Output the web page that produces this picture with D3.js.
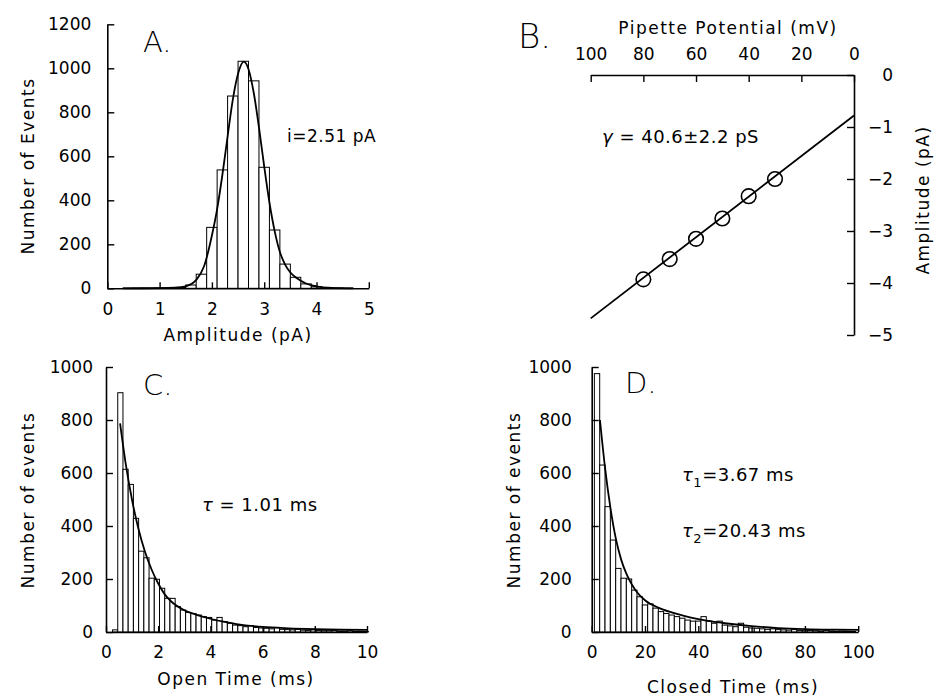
<!DOCTYPE html>
<html>
<head>
<meta charset="utf-8">
<script src="https://cdn.jsdelivr.net/npm/d3@7"></script>
<style>
body { margin: 0; background: #fff; }
svg text { font-family: "DejaVu Sans", sans-serif; fill: #000; }
</style>
</head>
<body>
<svg id="chart" width="934" height="698"></svg>
<script>
// A. amplitude histogram (bins of 0.2 pA starting at 0.3)
const ampBinStart = 0.3, ampBinWidth = 0.2;
const ampCounts = [1, 1, 1, 2, 2, 4, 15, 64, 277, 538, 874, 1032, 943, 550, 265, 110, 50, 20, 7, 3, 2, 1];
const ampFitX = [0.3, 1.0, 1.3, 1.5, 1.7, 1.85, 2.0, 2.1, 2.2, 2.3, 2.4, 2.5, 2.61, 2.7, 2.8, 2.9, 3.0, 3.1, 3.2, 3.3, 3.4, 3.5, 3.62, 3.8, 4.0, 4.3, 4.7];
const ampFitY = [0, 0.5, 2.5, 9, 38, 100, 240, 360, 515, 690, 858, 975, 1030, 996, 889, 731, 554, 390, 260, 165, 108, 72, 47, 22, 9, 2, 0];

// B. current-voltage relation
const pipetteMV = [80, 70, 60, 50, 40, 30];
const amplitudePA = [-3.93, -3.54, -3.15, -2.76, -2.33, -2.0];
const ivFitMV = [100, 0];
const ivFitPA = [-4.68, -0.78];

// C. open time histogram (bins of 0.2 ms)
const openBinStart = 0.25, openBinWidth = 0.2;
const openCounts = [8, 903, 614, 557, 429, 305, 280, 203, 199, 165, 127, 127, 96, 83, 74, 70, 64, 58, 55,
  45, 55, 39, 33, 26, 24, 20, 24, 17, 15, 14, 12, 16, 10, 9, 8, 10, 7, 6, 8, 6, 5, 5, 6, 4, 4, 5, 3, 3, 2];
const openFitX = [0.54, 0.75, 1.0, 1.25, 1.5, 1.75, 2.0, 2.25, 2.5, 3.0, 3.5, 4.0, 4.5, 5.0, 6.0, 7.0, 8.0, 9.0, 10.0];
const openFitY = [787, 638, 497, 387, 301, 235, 183, 142, 115, 82, 64, 50, 39, 30, 19, 14, 11, 9, 8];

// D. closed time histogram (bins of 2 ms)
const closedBinStart = 1, closedBinWidth = 2;
const closedCounts = [975, 630, 473, 347, 240, 203, 200, 158, 133, 102, 106, 90, 77, 70, 64, 58, 52, 45, 41, 41,
  58, 41, 33, 41, 26, 23, 20, 33, 18, 15, 14, 12, 10, 12, 9, 8, 7, 9, 6, 5, 6, 5, 4, 6, 4, 3, 4, 3, 2];
const closedFitX = [3.1, 5, 7, 9, 11, 13, 15, 17, 20, 25, 30, 35, 40, 45, 50, 60, 70, 80, 90, 100];
const closedFitY = [800, 620, 470, 355, 275, 220, 180, 150, 120, 92, 74, 60, 49, 40, 33, 22, 15, 11, 9, 8];

const svg = d3.select("#chart");

function styleAxis(g) {
    g.select(".domain").attr("stroke-width", 1.6);
    g.selectAll(".tick line").attr("stroke-width", 1.4);
    g.selectAll(".tick text").attr("font-size", 17).attr("font-family", "DejaVu Sans, sans-serif");
}

function label(x, y, txt, opts = {}) {
    const t = svg.append("text")
        .attr("x", x).attr("y", y)
        .attr("font-size", opts.size || 17)
        .attr("letter-spacing", opts.spacing || 0)
        .attr("text-anchor", opts.anchor || "start")
        .text(txt);
    if (opts.rotate) t.attr("transform", `rotate(-90,${x},${y})`);
    if (opts.weight) t.attr("font-weight", opts.weight);
    return t;
}

function drawHist(p) {
    const x = d3.scaleLinear().domain(p.xDomain).range(p.xRange);
    const y = d3.scaleLinear().domain(p.yDomain).range(p.yRange);
    const g = svg.append("g");

    g.selectAll("rect")
        .data(p.counts)
        .join("rect")
        .attr("x", (d, i) => x(p.binStart + i * p.binWidth))
        .attr("width", x(p.binWidth) - x(0))
        .attr("y", d => y(d))
        .attr("height", d => y(0) - y(d))
        .attr("fill", "#fff")
        .attr("stroke", "#000")
        .attr("stroke-width", 1);

    const line = d3.line()
        .x(d => x(d[0]))
        .y(d => y(d[1]))
        .curve(d3.curveMonotoneX);
    g.append("path")
        .datum(d3.zip(p.fitX, p.fitY))
        .attr("d", line)
        .attr("fill", "none")
        .attr("stroke", "#000")
        .attr("stroke-width", 1.8);

    g.append("g")
        .attr("transform", `translate(0,${p.yRange[0]})`)
        .call(d3.axisBottom(x).tickValues(p.xTicks).tickSizeInner(-6).tickSizeOuter(0).tickPadding(p.xPad).tickFormat(d3.format("d")))
        .call(styleAxis);
    g.append("g")
        .attr("transform", `translate(${p.xRange[0]},0)`)
        .call(d3.axisLeft(y).tickValues(p.yTicks).tickSizeInner(-7).tickSizeOuter(0).tickPadding(p.yPad).tickFormat(d3.format("d")))
        .call(styleAxis);
}

// panel A
drawHist({
    xDomain: [0, 5], xRange: [107.3, 368.8],
    yDomain: [0, 1200], yRange: [288.3, 24.3],
    binStart: ampBinStart, binWidth: ampBinWidth, counts: ampCounts,
    fitX: ampFitX, fitY: ampFitY,
    xTicks: d3.range(0, 6, 1), yTicks: d3.range(0, 1201, 200),
    xPad: 15, yPad: 16
});
label(143, 52, "A.", { size: 29, weight: 300 });
label(287, 142, "i=2.51 pA", { size: 17, spacing: 0.5 });
label(238, 341, "Amplitude (pA)", { anchor: "middle", spacing: 1.5 });
label(34, 166, "Number of Events", { anchor: "middle", spacing: 1.5, rotate: true });

// panel B
const xB = d3.scaleLinear().domain([100, 0]).range([590.7, 854]);
const yB = d3.scaleLinear().domain([0, -5]).range([75, 335]);
const gB = svg.append("g");
gB.append("path")
    .datum(d3.zip(ivFitMV, ivFitPA))
    .attr("d", d3.line().x(d => xB(d[0])).y(d => yB(d[1])))
    .attr("stroke", "#000").attr("stroke-width", 1.8).attr("fill", "none");
gB.selectAll("circle")
    .data(d3.zip(pipetteMV, amplitudePA))
    .join("circle")
    .attr("cx", d => xB(d[0]))
    .attr("cy", d => yB(d[1]))
    .attr("r", 7.3)
    .attr("fill", "none")
    .attr("stroke", "#000")
    .attr("stroke-width", 1.6);
gB.append("g")
    .attr("transform", `translate(0,75)`)
    .call(d3.axisTop(xB).tickValues(d3.range(0, 101, 20)).tickSizeInner(-7).tickSizeOuter(0).tickPadding(15))
    .call(styleAxis);
gB.append("g")
    .attr("transform", `translate(854,0)`)
    .call(d3.axisRight(yB).tickValues([0, -1, -2, -3, -4, -5]).tickSizeInner(-7).tickSizeOuter(0).tickPadding(39)
        .tickFormat(d => d === 0 ? "0" : "\u2212" + Math.abs(d)))
    .call(styleAxis)
    .call(g => g.selectAll(".tick text").attr("text-anchor", "end"));
label(518, 48, "B.", { size: 34, weight: 300 });
label(728, 34, "Pipette Potential (mV)", { anchor: "middle", spacing: 1.5 });
label(923, 200, "Amplitude (pA)", { anchor: "middle", spacing: 1.5, rotate: true }).attr("dy", "0.35em");
const gam = label(602, 143, "", { size: 18, spacing: 0.5 });
gam.append("tspan").attr("font-style", "italic").text("γ");
gam.append("tspan").text(" = 40.6±2.2 pS");

// panel C
drawHist({
    xDomain: [0, 10], xRange: [106, 367],
    yDomain: [0, 1000], yRange: [632, 367],
    binStart: openBinStart, binWidth: openBinWidth, counts: openCounts,
    fitX: openFitX, fitY: openFitY,
    xTicks: d3.range(0, 11, 2), yTicks: d3.range(0, 1001, 200),
    xPad: 14, yPad: 13
});
label(143, 395, "C.", { size: 29, weight: 300 });
const tauC = label(202, 511, "", { size: 18, spacing: 0.5 });
tauC.append("tspan").attr("font-style", "italic").text("τ");
tauC.append("tspan").text(" = 1.01 ms");
label(236, 685, "Open Time (ms)", { anchor: "middle", spacing: 1.5 });
label(34, 500, "Number of events", { anchor: "middle", spacing: 1.5, rotate: true });

// panel D
drawHist({
    xDomain: [0, 100], xRange: [591.7, 858.2],
    yDomain: [0, 1000], yRange: [632, 367],
    binStart: closedBinStart, binWidth: closedBinWidth, counts: closedCounts,
    fitX: closedFitX, fitY: closedFitY,
    xTicks: d3.range(0, 101, 20), yTicks: d3.range(0, 1001, 200),
    xPad: 14, yPad: 20
});
label(625, 393, "D.", { size: 29, weight: 300 });
const t1 = label(682, 481, "", { size: 18, spacing: 0.5 });
t1.append("tspan").attr("font-style", "italic").text("τ");
t1.append("tspan").attr("font-size", 13).attr("dy", 6).text("1");
t1.append("tspan").attr("dy", -6).text("=3.67 ms");
const t2 = label(682, 537, "", { size: 18, spacing: 0.5 });
t2.append("tspan").attr("font-style", "italic").text("τ");
t2.append("tspan").attr("font-size", 13).attr("dy", 6).text("2");
t2.append("tspan").attr("dy", -6).text("=20.43 ms");
label(733, 693, "Closed Time (ms)", { anchor: "middle", spacing: 1.5 });
label(520, 500, "Number of events", { anchor: "middle", spacing: 1.5, rotate: true });
</script>
</body>
</html>
